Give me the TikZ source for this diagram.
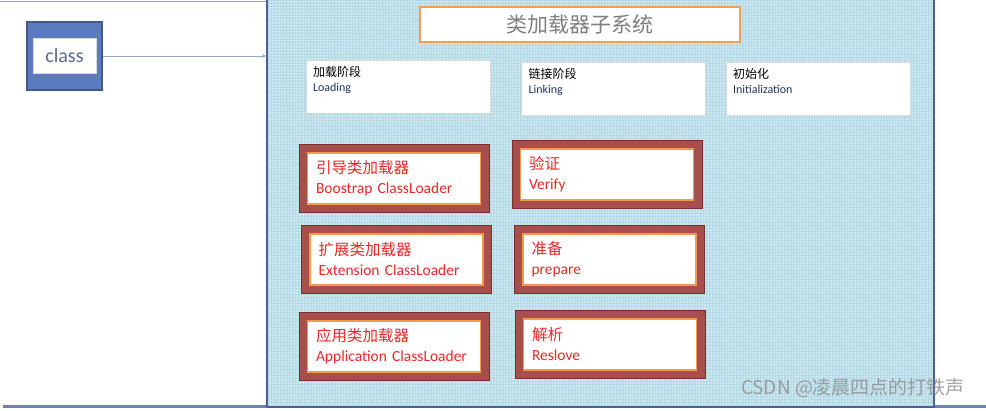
\documentclass[tikz,border=0pt]{standalone}
\usepackage{fontspec}
\setmainfont{Carlito}
\newfontfamily\cjkfont{Noto Sans CJK SC}
\usepackage{xcolor}
\definecolor{frame-blue}{HTML}{4A6396}
\definecolor{hatch-blue}{HTML}{B3DAE6}
\definecolor{class-blue}{HTML}{5B7BBE}
\definecolor{class-edge}{HTML}{3F5A8F}
\definecolor{class-text}{HTML}{5A6B8C}
\definecolor{title-orange}{HTML}{F0A050}
\definecolor{title-gray}{HTML}{7F7F7F}
\definecolor{phase-edge}{HTML}{D9D9D9}
\definecolor{phase-en}{HTML}{1F3864}
\definecolor{loader-red}{HTML}{A84E4C}
\definecolor{loader-edge}{HTML}{7A2E2E}
\definecolor{loader-orange}{HTML}{F59A4A}
\definecolor{loader-text}{HTML}{F02828}
\definecolor{arrow-blue}{HTML}{8FA8D0}
\usepackage{tikz}
\usetikzlibrary{
  arrows.meta,
  positioning,
  patterns.meta
}

\begin{document}
\begin{tikzpicture}[
    x=1pt, y=-1pt,
    subsystem/.style={
      rectangle,
      draw=frame-blue,
      line width=2pt,
      preaction={fill=hatch-blue},
      pattern={Dots[distance=3pt, radius=0.75pt]},
      pattern color=white,
      minimum width=667pt,
      minimum height=411pt
    },
    classout/.style={
      rectangle,
      draw=class-edge,
      line width=1.5pt,
      fill=class-blue,
      minimum width=75pt,
      minimum height=68pt
    },
    classin/.style={
      rectangle,
      draw=black!15,
      fill=white,
      minimum width=63pt,
      minimum height=35pt,
      text=class-text,
      font=\fontsize{20}{22}\selectfont
    },
    titlebox/.style={
      rectangle,
      draw=title-orange,
      line width=2pt,
      fill=white,
      minimum width=320pt,
      minimum height=35pt,
      text=title-gray,
      font=\cjkfont\fontsize{21}{24}\selectfont
    },
    phase/.style={
      rectangle,
      draw=phase-edge,
      fill=white,
      minimum width=184pt,
      minimum height=53pt
    },
    phasetext/.style={
      align=left,
      inner sep=0pt,
      font=\fontsize{12}{15}\selectfont
    },
    loaderout/.style={
      rectangle,
      draw=loader-edge,
      line width=1pt,
      fill=loader-red,
      minimum width=190pt,
      minimum height=68pt
    },
    loaderin/.style={
      rectangle,
      draw=loader-orange,
      line width=1.5pt,
      fill=white,
      minimum width=173pt,
      minimum height=51pt,
      text width=156pt,
      inner sep=0pt,
      align=left,
      text=loader-text,
      font=\fontsize{15.5}{20}\selectfont
    },
    arrow/.style={
      -{Stealth[length=4pt, width=4pt]},
      line width=0.8pt,
      color=arrow-blue
    },
    edgeline/.style={
      line width=2.5pt,
      color=frame-blue!80
    }
  ]
    \useasboundingbox (0,0) rectangle (986,410);

    % Outer frame lines
    \draw[line width=1pt, color=frame-blue!60] (0,1) -- (267,1);
    \draw[edgeline] (3,406.5) -- (986,406.5);

    % Class loader subsystem
    \node[subsystem] (subsys) at (600.5, 201.5) {};
    \node[titlebox] (title) at (580, 24.5) {类加载器子系统};

    % Class file on the left
    \node[classout] (cls) at (64.5, 56) {};
    \node[classin] (clsname) at (cls) {class};
    \draw[arrow] (cls.east) -- (cls.east -| subsys.west);

    % Three phases
    \node[phase] (loading) at (398, 86.5) {};
    \node[phase] (linking) at (613.5, 88.5) {};
    \node[phase] (init)    at (818, 89) {};
    \node[phasetext, below right=6pt and 7pt of loading.north west]
      (loadingtxt) {{\cjkfont 加载阶段}\\\textcolor{phase-en}{Loading}};
    \node[phasetext, below right=6pt and 7pt of linking.north west]
      (linkingtxt) {{\cjkfont 链接阶段}\\\textcolor{phase-en}{Linking}};
    \node[phasetext, below right=6pt and 7pt of init.north west]
      (inittxt) {{\cjkfont 初始化}\\\textcolor{phase-en}{Initialization}};

    % Loaders (left column)
    \node[loaderout] (bootout) at (394, 178.5) {};
    \node[loaderin] (boot) at (bootout) {{\cjkfont 引导类加载器}\\Boostrap ClassLoader};
    \node[loaderout] (extout) at (396.5, 259.5) {};
    \node[loaderin] (ext) at (extout) {{\cjkfont 扩展类加载器}\\Extension ClassLoader};
    \node[loaderout] (appout) at (394, 346.5) {};
    \node[loaderin] (app) at (appout) {{\cjkfont 应用类加载器}\\Application ClassLoader};

    % Linking steps (right column)
    \node[loaderout] (verifyout) at (607, 174.5) {};
    \node[loaderin] (verify) at (verifyout) {{\cjkfont 验证}\\Verify};
    \node[loaderout] (prepout) at (609.5, 259.5) {};
    \node[loaderin] (prep) at (prepout) {{\cjkfont 准备}\\prepare};
    \node[loaderout] (resolveout) at (610, 344.5) {};
    \node[loaderin] (resolve) at (resolveout) {{\cjkfont 解析}\\Reslove};

    % Watermark
    \node[text=black!45, font=\cjkfont\fontsize{19}{22}\selectfont, opacity=0.8]
      (mark) at (853, 388) {CSDN @凌晨四点的打铁声};
  \end{tikzpicture}
\end{document}
